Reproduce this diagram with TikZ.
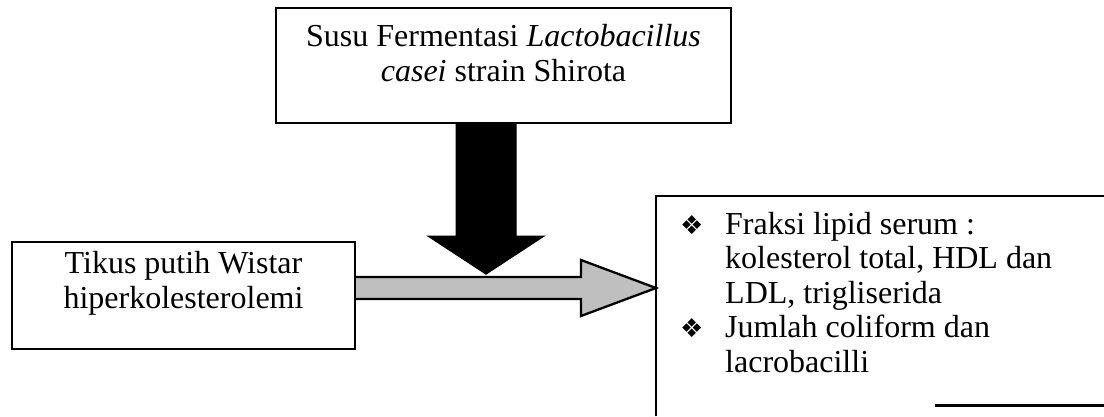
\documentclass[tikz,border=0pt]{standalone}
\usepackage{fontspec}
\setmainfont{Liberation Serif}
\newfontfamily\symfont{DejaVu Sans}
\usetikzlibrary{calc}
\begin{document}
\begin{tikzpicture}[x=1pt,y=-1pt,
  frame/.style={draw, line width=2.3pt, inner sep=0pt},
  txt/.style={inner sep=0pt, font=\fontsize{32}{35}\selectfont, align=center},
  edge/.style={line width=2.3pt},
  bigarrow/.style={fill=black, draw=black, line width=1pt},
  grayarrow/.style={fill=gray!50, draw=black, line width=2.3pt, line join=miter},
  bul/.style={}
]
\useasboundingbox (0,0) rectangle (1104,416);
% top box
\node[frame, minimum width=455pt, minimum height=115pt] (top) at (503.5,65.5) {};
\node[txt] (toptext) at ($(top.north)+(0,46)$) {Susu Fermentasi \textit{Lactobacillus}\\\textit{casei} strain Shirota};
% left box
\node[frame, minimum width=343pt, minimum height=107pt] (left) at (183.5,295.5) {};
\node[txt] (lefttext) at ($(left.north)+(0,42)$) {Tikus putih Wistar\\hiperkolesterolemi};
% right box (partly outside the picture)
\node[inner sep=0pt, minimum width=460pt, minimum height=209pt, anchor=north west] (right) at (656,196) {};
\draw[edge] ($(right.south west)+(0,11)$) -- (right.north west) -- (right.north east);
\draw[edge] ($(right.south west)+(279,0)$) -- (right.south east);
\node[inner sep=0pt, anchor=north west, font=\fontsize{32}{34.5}\selectfont] (righttext) at ($(right.north west)+(24,14)$) {%
\begin{tabular}{@{}p{45pt}@{}l@{}}
{\symfont\fontsize{26}{26}\selectfont ❖} & Fraksi lipid serum :\\
 & kolesterol total, HDL dan\\
 & LDL, trigliserida\\
{\symfont\fontsize{26}{26}\selectfont ❖} & Jumlah coliform dan\\
 & lacrobacilli
\end{tabular}};
% black arrow
\coordinate (btip) at ($(top.south)+(-17.5,150)$);
\coordinate (bl) at ($(btip)+(-30,0)$);
\coordinate (br) at ($(btip)+(30,0)$);
\fill[bigarrow] (bl |- top.south) -- ($(btip)+(-30,-38)$) -- ($(btip)+(-58,-38)$) -- (btip)
  -- ($(btip)+(58,-38)$) -- ($(btip)+(30,-38)$) -- (br |- top.south) -- cycle;
% gray arrow
\coordinate (gtip) at ($(right.north west)+(0,92)$);
\coordinate (gs) at (left.east |- gtip);
\draw[grayarrow] ($(gs)+(0,-11)$) -- ($(gtip)+(-75,-11)$) -- ($(gtip)+(-75,-28)$) -- (gtip)
  -- ($(gtip)+(-75,28)$) -- ($(gtip)+(-75,11)$) -- ($(gs)+(0,11)$);
\end{tikzpicture}
\end{document}
